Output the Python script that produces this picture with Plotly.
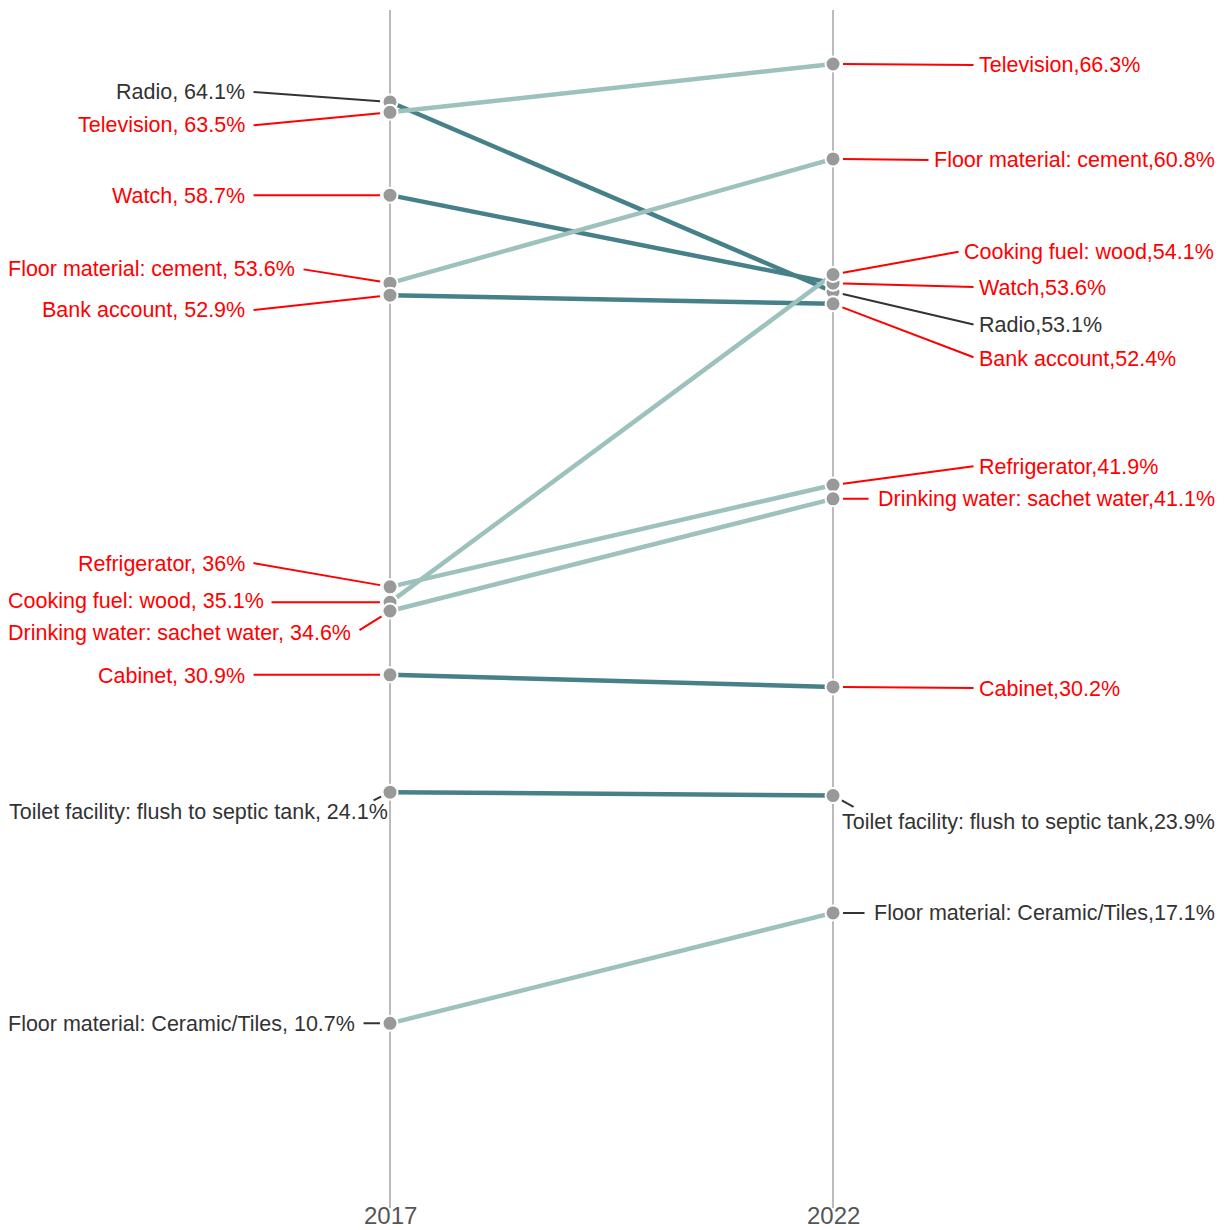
import plotly.graph_objects as go

# ---- data ----
items = ["Radio", "Television", "Watch", "Floor material: cement", "Bank account",
         "Refrigerator", "Cooking fuel: wood", "Drinking water: sachet water",
         "Cabinet", "Toilet facility: flush to septic tank", "Floor material: Ceramic/Tiles"]
v2017 = [64.1, 63.5, 58.7, 53.6, 52.9, 36, 35.1, 34.6, 30.9, 24.1, 10.7]
v2022 = [53.1, 66.3, 53.6, 60.8, 52.4, 41.9, 54.1, 41.1, 30.2, 23.9, 17.1]
years = [2017, 2022]
year_labels = ["2017", "2022"]
label_colour_key = ["dark", "red", "red", "red", "red", "red", "red", "red", "red", "dark", "dark"]

# ---- label layout (pixel offsets from point: leader tail dx, dy, text dx, dy; +dy = down) ----
left_pos = [(-138, -10, -143, -10), (-138, 13, -143, 13), (-138, 0, -143, 1),
            (-88, -14, -93, -14), (-138, 15, -143, 15), (-138, -24, -143, -23),
            (-120, 0, -124, -1), (-32, 20, -37, 22), (-138, 0, -143, 1),
            (-18, 9, 0, 20), (-28, 0, -33, 1)]
right_pos = [(142, 33, 144, 33),   # Radio
             (142, 1, 144, 1),     # Television
             (142, 4, 144, 5),     # Watch
             (97, 1, 99, 1),       # Floor cement
             (142, 54, 144, 55),   # Bank
             (142, -19, 144, -18), # Refrigerator
             (127, -23, 129, -23), # Cooking fuel
             (37, 0, 43, 0),       # Drinking water
             (142, 1, 144, 2),     # Cabinet
             (22, 12, 7, 26),      # Toilet
             (33, 0, 39, 0)]       # Tiles

RED = "#ff0000"
DARK = "#333333"
TEAL_DARK = "#46818a"
TEAL_LIGHT = "#9dc1bc"
MARKER = "#999999"
FONT = "Liberation Sans, Arial, Helvetica, sans-serif"

fig = go.Figure()

for name, a, b in zip(items, v2017, v2022):
    fig.add_trace(go.Scatter(
        x=years, y=[a, b], mode="lines",
        line=dict(color=TEAL_DARK if b < a else TEAL_LIGHT, width=4.5),
        hoverinfo="skip", showlegend=False))

fig.add_trace(go.Scatter(
    x=[2017] * len(v2017) + [2022] * len(v2022), y=v2017 + v2022,
    mode="markers",
    marker=dict(size=15, color=MARKER, line=dict(color="white", width=2)),
    hoverinfo="skip", showlegend=False))

annotations = []
for i, name in enumerate(items):
    col = RED if label_colour_key[i] == "red" else DARK
    for year, val, pos, side in ((2017, v2017[i], left_pos[i], "left"),
                                 (2022, v2022[i], right_pos[i], "right")):
        ldx, ldy, tdx, tdy = pos
        sep = ", " if side == "left" else ","
        txt = f"{name}{sep}{val:g}%"
        annotations.append(dict(
            x=year, y=val, xref="x", yref="y", text="", showarrow=True,
            ax=ldx, ay=ldy, arrowhead=0, arrowwidth=2, arrowcolor=col,
            standoff=10))
        annotations.append(dict(
            x=year, y=val, xref="x", yref="y", text=txt, showarrow=False,
            xanchor="right" if side == "left" else "left", yanchor="middle",
            xshift=tdx, yshift=-tdy,
            font=dict(family=FONT, size=21.5, color=col)))

# year labels under the axis lines
for yr, lab in zip(years, year_labels):
    annotations.append(dict(
        x=yr, y=0, xref="x", yref="paper", text=lab, showarrow=False,
        xanchor="center", yanchor="bottom", yshift=-22, borderpad=0,
        font=dict(family=FONT, size=24, color="#555555")))

fig.update_layout(
    width=1225, height=1230,
    margin=dict(l=0, r=0, t=10, b=22),
    plot_bgcolor="white", paper_bgcolor="white",
    annotations=annotations,
    font=dict(family=FONT),
    xaxis=dict(range=[2012.598, 2026.424], tickvals=years, showticklabels=False,
               showgrid=True, gridcolor="#bbbbbb", gridwidth=2, zeroline=False,
               showline=False, ticks="", automargin=False, fixedrange=True),
    yaxis=dict(range=[0, 69.43], showgrid=False, zeroline=False, showticklabels=False,
               ticks="", automargin=False, fixedrange=True),
)

fig.write_html("out.html", config={"displayModeBar": False},
               post_script="document.body.style.margin='0';")
